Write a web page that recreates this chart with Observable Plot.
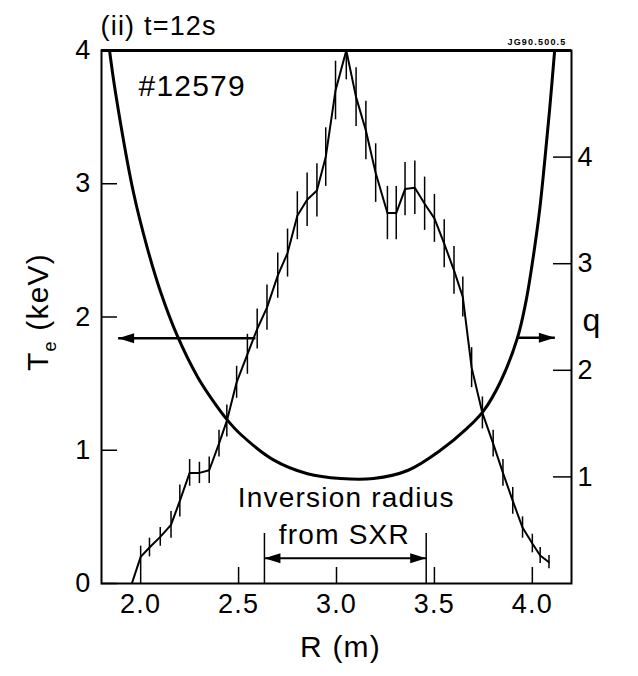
<!DOCTYPE html>
<html>
<head>
<meta charset="utf-8">
<script src="https://cdn.jsdelivr.net/npm/d3@7"></script>
<script src="https://cdn.jsdelivr.net/npm/@observablehq/plot@0.6"></script>
<style>
  html, body { margin: 0; padding: 0; background: #fff; }
</style>
</head>
<body>
<div id="chart"></div>
<script>
// ---- Data ----
const teR   = [1.955, 2.00, 2.045, 2.10, 2.155, 2.20, 2.25, 2.30, 2.35, 2.40, 2.44, 2.49, 2.545, 2.595, 2.645, 2.70, 2.75, 2.80, 2.85, 2.90, 2.945, 2.995, 3.05, 3.10, 3.15, 3.20, 3.26, 3.305, 3.35, 3.40, 3.45, 3.50, 3.55, 3.60, 3.645, 3.69, 3.745, 3.80, 3.85, 3.90, 3.95, 4.00, 4.04, 4.085];
const teVal = [0.00, 0.20, 0.27, 0.35, 0.44, 0.62, 0.83, 0.83, 0.85, 1.05, 1.22, 1.51, 1.72, 1.91, 2.07, 2.31, 2.48, 2.76, 2.88, 2.95, 3.20, 3.70, 4.00, 3.65, 3.40, 3.08, 2.78, 2.78, 2.96, 2.97, 2.85, 2.74, 2.55, 2.35, 2.15, 1.62, 1.28, 1.05, 0.83, 0.62, 0.42, 0.30, 0.21, 0.16];
const teErr = [0, 0.08, 0.07, 0.07, 0.10, 0.12, 0.10, 0.08, 0.10, 0.10, 0.12, 0.12, 0.15, 0.15, 0.17, 0.17, 0.18, 0.18, 0.20, 0.20, 0.22, 0.22, 0.22, 0.22, 0.22, 0.22, 0.20, 0.20, 0.20, 0.20, 0.20, 0.18, 0.18, 0.18, 0.15, 0.15, 0.12, 0.10, 0.10, 0.10, 0.08, 0.07, 0.06, 0.05];

const qR   = [1.841, 1.872, 1.963, 2.035, 2.101, 2.188, 2.290, 2.367, 2.444, 2.510, 2.678, 2.852, 3.021, 3.189, 3.363, 3.531, 3.669, 3.751, 3.838, 3.925, 3.970, 4.006, 4.037, 4.062, 4.088, 4.114];
const qVal = [5.00, 4.60, 3.67, 3.14, 2.74, 2.32, 1.94, 1.72, 1.53, 1.40, 1.16, 1.03, 0.985, 0.985, 1.06, 1.25, 1.46, 1.62, 1.895, 2.31, 2.67, 3.08, 3.50, 3.94, 4.44, 5.00];

const xTicks  = [2.0, 2.5, 3.0, 3.5, 4.0];
const teTicks = [0, 1, 2, 3, 4];
const qTicks  = [1, 2, 3, 4];

// annotation values
const arrowFrom = [2.586, 3.925];
const arrowTo   = [1.885, 4.115];
const arrowTe   = [1.84, 1.845];
const invR      = [2.632, 3.458];
const invArrowTe = 0.19;
const invBarTop  = 0.375;

// ---- Build tables ----
const qScale = 4 / 5; // q axis 0..5 maps onto Te axis 0..4
const te = teR.map((R, i) => ({R, T: teVal[i], e: teErr[i]}));
const qc = qR.map((R, i) => ({R, q: qVal[i]}));
const arrows = arrowFrom.map((x1, i) => ({x1, x2: arrowTo[i], y: arrowTe[i]}));

const W = 638, H = 676;
const mL = 101, mR = 67, mT = 50, mB = 93;
const pw = W - mL - mR, ph = H - mT - mB;

const headRight = {draw(ctx) { ctx.moveTo(0, 0); ctx.lineTo(-16, -5); ctx.lineTo(-16, 5); ctx.closePath(); }};
const headLeft  = {draw(ctx) { ctx.moveTo(0, 0); ctx.lineTo(16, -5); ctx.lineTo(16, 5); ctx.closePath(); }};

const font = "'Liberation Sans', Arial, Helvetica, sans-serif";

const plot = Plot.plot({
  width: W,
  height: H,
  marginLeft: mL,
  marginRight: mR,
  marginTop: mT,
  marginBottom: mB,
  style: {fontFamily: font, fontSize: "27px", color: "#000", background: "#fff", letterSpacing: "1.2px", overflow: "visible"},
  x: {domain: [1.8, 4.2], axis: null},
  y: {domain: [0, 4], axis: null},
  marks: [
    // axis labels (tick text only)
    Plot.axisX(xTicks, {anchor: "bottom", tickSize: 0, tickPadding: 10, tickFormat: d3.format(".1f"), fontSize: 27, label: null}),
    Plot.axisY(teTicks, {anchor: "left", tickSize: 0, tickPadding: 10, tickFormat: d => String(d), fontSize: 27, label: null}),
    Plot.axisY(qTicks.map(q => q * qScale), {anchor: "right", tickSize: 0, tickPadding: 6, tickFormat: d => String(Math.round(d / qScale)), fontSize: 27, label: null}),
    // inward tick marks
    Plot.tickX(xTicks, {x: d => d, insetTop: ph - 16, strokeWidth: 1.5}),
    Plot.tickY(teTicks, {y: d => d, insetRight: pw - 16, strokeWidth: 1.5}),
    Plot.tickY(qTicks, {y: d => d * qScale, insetLeft: pw - 18, strokeWidth: 1.5}),
    // frame
    Plot.frame({strokeWidth: 2}),
    Plot.ruleY([4], {strokeWidth: 3}),
    // q profile
    Plot.line(qc, {x: "R", y: d => d.q * qScale, curve: "catmull-rom", strokeWidth: 3, clip: true}),
    // Te profile
    Plot.line(te, {x: "R", y: "T", strokeWidth: 2, clip: true}),
    Plot.ruleX(te.filter(d => d.e > 0), {x: "R", y1: d => d.T - d.e, y2: d => Math.min(4, d.T + d.e), strokeWidth: 1.5}),
    // pointer arrows
    Plot.link(arrows, {x1: "x1", x2: "x2", y1: "y", y2: "y", strokeWidth: 2.5}),
    Plot.dot(arrows.filter(d => d.x2 < d.x1), {x: "x2", y: "y", symbol: headLeft, fill: "#000", stroke: null}),
    Plot.dot(arrows.filter(d => d.x2 > d.x1), {x: "x2", y: "y", symbol: headRight, fill: "#000", stroke: null}),
    // inversion radius
    Plot.ruleX(invR, {x: d => d, y1: 0, y2: invBarTop, strokeWidth: 1.5}),
    Plot.link([0], {x1: () => invR[0], x2: () => invR[1], y1: () => invArrowTe, y2: () => invArrowTe, strokeWidth: 2}),
    Plot.dot([invR[0]], {x: d => d, y: () => invArrowTe, symbol: headLeft, fill: "#000", stroke: null}),
    Plot.dot([invR[1]], {x: d => d, y: () => invArrowTe, symbol: headRight, fill: "#000", stroke: null}),
    Plot.text(["Inversion radius"], {x: () => 3.05, y: () => 0.64, fontSize: 28}),
    Plot.text(["from SXR"], {x: () => 3.04, y: () => 0.36, fontSize: 28}),
    // text annotations
    Plot.text(["(ii) t=12s"], {frameAnchor: "top-left", lineAnchor: "middle", dy: -24, dx: -1, textAnchor: "start", fontSize: 27}),
    Plot.text(["#12579"], {x: () => 1.989, y: () => 3.73, textAnchor: "start", fontSize: 30}),
    Plot.text(["JG90.500.5"], {frameAnchor: "top-right", lineAnchor: "middle", dx: -5, dy: -8, textAnchor: "end", fontSize: 9, fontWeight: "bold"}),
    Plot.text(["R (m)"], {frameAnchor: "bottom", lineAnchor: "middle", dy: 64, dx: 4, fontSize: 30}),
    Plot.text(["q"], {frameAnchor: "right", lineAnchor: "middle", dx: 30, dy: 4, fontSize: 32})
  ]
});

// Y-axis title with subscript
const svg = d3.select(plot);
const t = svg.append("text")
  .attr("transform", "translate(48,312) rotate(-90)")
  .attr("text-anchor", "middle")
  .attr("font-size", 30)
  .attr("fill", "#000");
t.append("tspan").text("T");
t.append("tspan").attr("font-size", 18).attr("dy", 8).text("e");
t.append("tspan").attr("dy", -8).text(" (keV)");

document.getElementById("chart").appendChild(plot);
</script>
</body>
</html>
